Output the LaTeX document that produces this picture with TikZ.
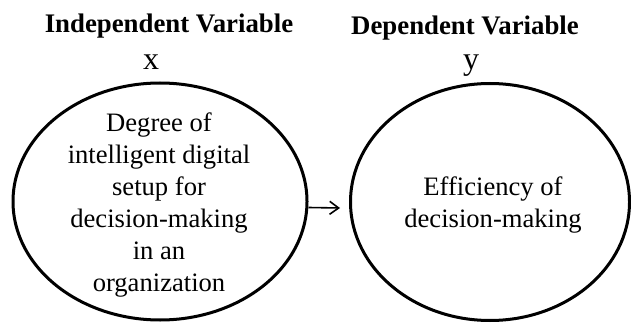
\documentclass[tikz,border=0pt]{standalone}
\usepackage{fontspec}
\setmainfont{Liberation Serif}
\usepackage{tikz}
\usetikzlibrary{arrows,arrows.meta}
\usetikzlibrary{positioning,shapes,calc}
\tikzset{varTitle/.style={anchor=base,inner sep=0pt,font=\fontsize{26.8}{32}\selectfont\bfseries},
		varSymbol/.style={anchor=base,inner sep=0pt,font=\fontsize{32}{32}\selectfont},
		varEllipse/.style={ellipse,draw,line width=3pt,inner sep=0pt},
		varText/.style={align=center,inner sep=0pt,font=\fontsize{26.6}{32}\selectfont},
		DedgeT/.style={-{Straight Barb[length=9pt,width=13pt]},line width=1.6pt},
		every node/.style={align=center}}
\begin{document}
\begin{tikzpicture}[x=1pt,y=-1pt]
\useasboundingbox (0,0) rectangle (631,323);
% the two variables
\node[varEllipse,minimum width=294pt,minimum height=237pt] (indep) at (160,201.5) {};
\node[varEllipse,minimum width=279pt,minimum height=237pt] (dep) at (490,202) {};
\node[varText] (indepText) at (159,205) {Degree of\\intelligent digital\\setup for\\decision-making\\in an\\organization};
\node[varText] (depText) at (493,205) {Efficiency of\\decision-making};
% titles
\node[varTitle] (indepTitle) at (169,33) {Independent Variable};
\node[varTitle] (depTitle) at (465,35) {Dependent Variable};
\node[varSymbol] (indepSym) at (151,70) {x};
\node[varSymbol] (depSym) at (471,70) {y};
% relation
\draw[DedgeT] ([yshift=-6pt]indep.east) -- ([yshift=-6pt,xshift=-9pt]dep.west);
\end{tikzpicture}
\end{document}
